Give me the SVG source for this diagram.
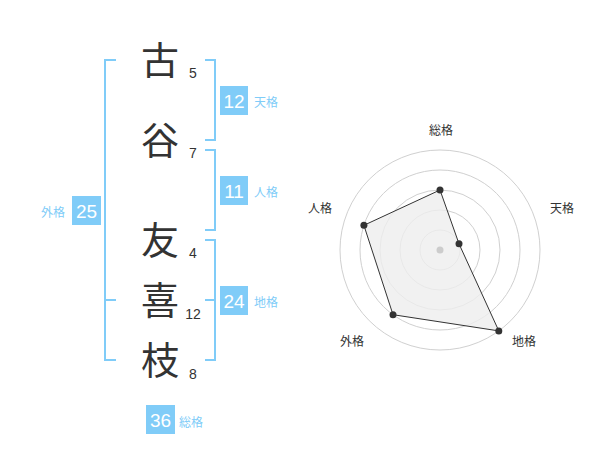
<svg xmlns="http://www.w3.org/2000/svg" width="600" height="470" viewBox="0 0 600 470">
<style>
.bg{fill:#ffffff}
.kanji{font-family:"Noto Sans CJK JP","Noto Sans CJK SC",sans-serif;font-size:38px;fill:#333333;text-anchor:middle}
.stroke{font-family:"Liberation Sans",Arial,sans-serif;font-size:14px;fill:#333333;text-anchor:middle}
.br{fill:none;stroke:#80ccf8;stroke-width:2}
.box{fill:#80ccf8}
.num{font-family:"Liberation Sans",Arial,sans-serif;font-size:19px;fill:#ffffff;text-anchor:middle}
.lbl{font-family:"Noto Sans CJK JP","Noto Sans CJK SC",sans-serif;font-size:12px;fill:#80ccf8}
.ring{fill:none;stroke:#d0d0d0;stroke-width:1}
.rl{font-family:"Noto Sans CJK JP","Noto Sans CJK SC",sans-serif;font-size:12px;fill:#333333;text-anchor:middle}
.pt{fill:#333333}
</style>
<rect class="bg" x="0" y="0" width="600" height="470"/>

<g id="name-chars">
  <g id="char-1"><text class="kanji" x="160" y="74">古</text><text class="stroke" x="193" y="78">5</text></g>
  <g id="char-2"><text class="kanji" x="160" y="154">谷</text><text class="stroke" x="193" y="158">7</text></g>
  <g id="char-3"><text class="kanji" x="160" y="254">友</text><text class="stroke" x="193" y="258">4</text></g>
  <g id="char-4"><text class="kanji" x="160" y="314">喜</text><text class="stroke" x="193" y="319">12</text></g>
  <g id="char-5"><text class="kanji" x="160" y="374">枝</text><text class="stroke" x="193" y="379">8</text></g>
</g>

<g id="connectors">
  <path class="br" d="M116,60 H105 V360 H116 M105,300 H116"/>
  <path class="br" d="M205,60 H215 V140 H205"/>
  <path class="br" d="M205,150 H215 V230 H205"/>
  <path class="br" d="M205,240 H215 V360 H205 M205,300 H215"/>
</g>

<g id="tenkaku">
  <rect class="box" x="220" y="86" width="28" height="29"/>
  <text class="num" x="234" y="107.5">12</text>
  <text class="lbl" x="254" y="107">天格</text>
</g>
<g id="jinkaku">
  <rect class="box" x="220" y="176" width="28" height="29"/>
  <text class="num" x="234" y="197.5">11</text>
  <text class="lbl" x="254" y="197">人格</text>
</g>
<g id="chikaku">
  <rect class="box" x="220" y="286" width="28" height="29"/>
  <text class="num" x="234" y="307.5">24</text>
  <text class="lbl" x="254" y="307">地格</text>
</g>
<g id="gaikaku">
  <rect class="box" x="72" y="196" width="29" height="29"/>
  <text class="num" x="86.5" y="217.5">25</text>
  <text class="lbl" x="65" y="217" text-anchor="end">外格</text>
</g>
<g id="soukaku">
  <rect class="box" x="146" y="405" width="29" height="29"/>
  <text class="num" x="160.5" y="426.5">36</text>
  <text class="lbl" x="179" y="427">総格</text>
</g>

<g id="radar">
  <circle class="ring" cx="440" cy="250" r="20"/>
  <circle class="ring" cx="440" cy="250" r="40"/>
  <circle class="ring" cx="440" cy="250" r="60"/>
  <circle class="ring" cx="440" cy="250" r="80"/>
  <circle class="ring" cx="440" cy="250" r="100"/>
  <polygon points="440,190 459,243.8 498.8,330.9 393,314.7 363.9,225.3" fill="#eeeeee" fill-opacity="0.8" stroke="#333333" stroke-width="1"/>
  <circle cx="440" cy="250" r="3.5" fill="#cccccc"/>
  <circle class="pt" cx="440" cy="190" r="3.5"/>
  <circle class="pt" cx="459" cy="243.8" r="3.5"/>
  <circle class="pt" cx="498.8" cy="330.9" r="3.5"/>
  <circle class="pt" cx="393" cy="314.7" r="3.5"/>
  <circle class="pt" cx="363.9" cy="225.3" r="3.5"/>
  <text class="rl" x="441" y="135">総格</text>
  <text class="rl" x="562" y="213">天格</text>
  <text class="rl" x="320" y="213">人格</text>
  <text class="rl" x="352" y="346">外格</text>
  <text class="rl" x="524" y="346">地格</text>
</g>
</svg>
